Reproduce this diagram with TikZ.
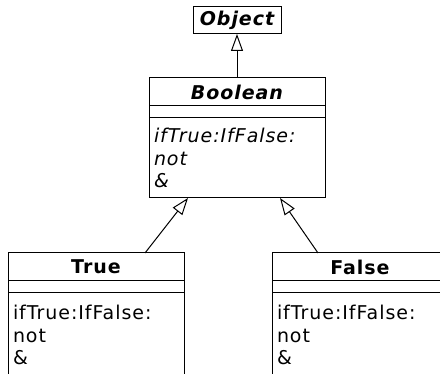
\documentclass[tikz,border=0pt]{standalone}
\usepackage{fontspec}
\setmainfont[LetterSpace=5]{DejaVu Sans}
\usetikzlibrary{arrows.meta,positioning}

\begin{document}
\begin{tikzpicture}[x=1pt,y=-1pt,line width=1pt,
  every node/.style={font=\fontsize{19}{22.5}\selectfont,outer sep=0pt},
  ttl/.style={draw,minimum width=176pt,minimum height=28pt,inner sep=0pt,font=\fontsize{19}{22.5}\selectfont\bfseries},
  att/.style={draw,minimum width=176pt,minimum height=12pt,inner sep=0pt},
  ops/.style={draw,minimum width=176pt,minimum height=84pt,text width=166pt,align=left,inner xsep=5pt,inner ysep=0pt},
  abs/.style={font=\fontsize{19}{22.5}\selectfont\bfseries\itshape},
  inh/.style={-{Triangle[open,length=17pt,width=12pt]}}
]
\useasboundingbox (0,0) rectangle (440,374);
\clip (0,0) rectangle (440,374);
% abstract classes
\node[ttl,abs,minimum width=88pt,minimum height=27pt] (objT) at (237,20.5) {Object};
\node[ttl,abs] (boolT) at (237,92) {Boolean};
\node[att,below=0pt of boolT] (boolA) {};
\node[ops,below=0pt of boolA,minimum height=80pt,font=\fontsize{19}{22.5}\selectfont\itshape] (boolO) {ifTrue:IfFalse:\\not\\\&};
% concrete subclasses
\foreach \n/\t/\cx in {true/True/96,false/False/360} {
  \node[ttl] (\n T) at (\cx,267) {\t};
  \node[att,below=0pt of \n T] (\n A) {};
  \node[ops,below=0pt of \n A] (\n O) {ifTrue:IfFalse:\\not\\\&\\[-4pt]};
}
\draw[inh] (boolT.north) -- (objT.south);
\draw[inh] ([xshift=49pt]trueT.north) -- ([xshift=-49pt]boolO.south);
\draw[inh] ([xshift=-42pt]falseT.north) -- ([xshift=43pt]boolO.south);
\end{tikzpicture}
\end{document}
